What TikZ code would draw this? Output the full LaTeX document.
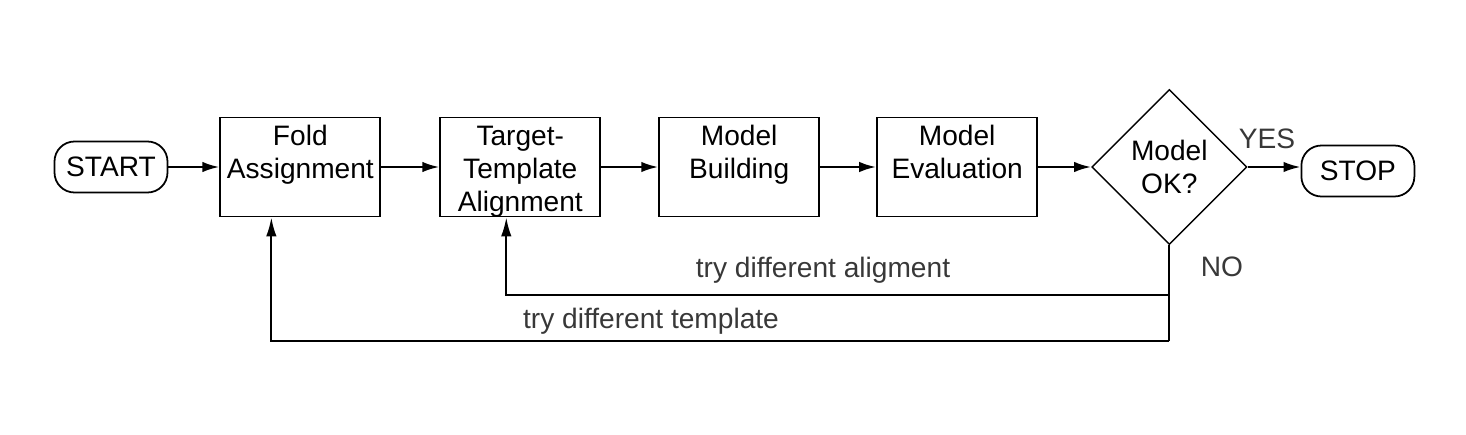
\documentclass[tikz,border=0pt]{standalone}
\usepackage{fontspec}
\setmainfont{Liberation Sans}
\usetikzlibrary{positioning,shapes.geometric,arrows.meta}

\tikzset{
  term/.style   = {draw, line width=1pt, rounded corners=0.4cm,
                   minimum width=2.26cm, minimum height=1.02cm, inner sep=0pt},
  stepbox/.style = {draw, line width=1.1pt, minimum width=3.2cm, minimum height=1.98cm,
                   text width=3.2cm, text height=15.5pt, text depth=40.5pt,
                   align=center, inner sep=0pt},
  decide/.style = {draw, diamond, line width=0.8pt, minimum size=3.1cm, inner sep=0pt,
                   align=center},
  flow/.style   = {line width=1.3pt, -{Latex[length=3.4mm,width=2.1mm]}},
  back/.style   = {line width=1.1pt, -{Latex[length=3.8mm,width=2.1mm]}},
  note/.style   = {text=black!78}
}

\begin{document}
\begin{tikzpicture}[font=\fontsize{16}{19}\selectfont]
  \useasboundingbox (0,0) rectangle (29.32,8.68);

  % main row
  \node[term] (start) at (2.22,5.34) {START};
  \node[stepbox, right=1.02cm of start]  (fold)   {Fold\\Assignment};
  \node[stepbox, right=1.16cm of fold]   (target) {Target-\\Template\\Alignment};
  \node[stepbox, right=1.14cm of target] (build)  {Model\\Building};
  \node[stepbox, right=1.12cm of build]  (eval)   {Model\\Evaluation};
  \node[decide, right=1.06cm of eval]    (ok)     {Model\\OK?};
  \node[term, right=1.06cm of ok, yshift=-0.08cm] (stop) {STOP};

  \draw[flow] (start) -- (fold);
  \draw[flow] (fold) -- (target);
  \draw[flow] (target) -- (build);
  \draw[flow] (build) -- (eval);
  \draw[flow] (eval) -- (ok);
  \draw[flow] (ok.east) -- (ok.east -| stop.west);

  % loops back
  \coordinate (alignrow) at (0,2.78);
  \coordinate (temprow)  at (0,1.86);
  \draw[line width=1.1pt] (ok.south) -- (ok.south |- temprow);
  \draw[back] (ok.south |- alignrow) -| ([xshift=-0.28cm]target.south);
  \draw[back] (ok.south |- temprow) -| ([xshift=-0.58cm]fold.south);

  \node[note] (yes) at (25.34,5.9)  {YES};
  \node[note] (no)  at (24.44,3.34) {NO};
  \node[note] (tryalign) at (16.46,3.28) {try different aligment};
  \node[note] (trytemp)  at (13.02,2.26) {try different template};
\end{tikzpicture}
\end{document}
